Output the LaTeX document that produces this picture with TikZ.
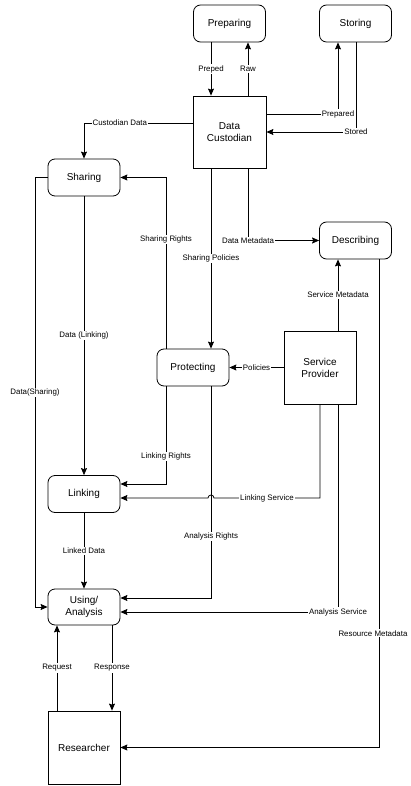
\documentclass[tikz,border=0pt]{standalone}
\usepackage{fontspec}
\setmainfont{Liberation Sans}
\usetikzlibrary{arrows.meta}
\begin{document}
\begin{tikzpicture}[x=1pt,y=-1pt,
 proc/.style={draw, rounded corners=7pt, minimum width=72pt, minimum height=37pt, font=\fontsize{10}{12}\selectfont, align=center, inner sep=0pt, line width=0.8pt},
 sq/.style={draw, minimum width=72pt, minimum height=72pt, font=\fontsize{10}{12}\selectfont, align=center, inner sep=0pt, line width=0.8pt},
 lbl/.style={fill=white, font=\fontsize{7.9}{9}\selectfont, inner sep=1pt},
 conn/.style={line width=0.8pt, -{Stealth[length=7pt,width=6pt,inset=1pt]}}
]
\useasboundingbox (0,0) rectangle (411,786);

\node[proc] (prep) at (229.5,23.5) {Preparing};
\node[proc] (stor) at (355.5,23.5) {Storing};
\node[sq, minimum width=73pt] (dc) at (229.5,132) {Data\\Custodian};
\node[proc] (shar) at (84,177.5) {Sharing};
\node[proc] (desc) at (355.5,240.5) {Describing};
\node[proc] (prot) at (193,367.5) {Protecting};
\node[sq, minimum height=73pt] (sp) at (320,367.5) {Service\\Provider};
\node[proc] (link) at (84,494) {Linking};
\node[proc, minimum height=36pt] (use) at (84,607) {Using/\\Analysis};
\node[sq, minimum height=73pt] (res) at (84,747.5) {Researcher};

\draw[conn] (prep.south -| 211,0) -- node[lbl]{Preped} (dc.north -| 211,0);
\draw[conn] (dc.north -| 248,0) -- node[lbl]{Raw} (prep.south -| 248,0);
\draw[conn] (dc.east |- 0,114) -- (338,114) node[lbl]{Prepared} -- (stor.south -| 338,0);
\draw[conn] (stor.south -| 356,0) -- (356,132) node[lbl]{Stored} -- (dc.east |- 0,132);
\draw[conn] (dc.west |- 0,123) -- node[lbl,pos=0.67]{Custodian Data} (84,123) -- (shar.north);
\draw[conn] (shar.west) -- (35,177.5) -- node[lbl]{Data(Sharing)} (35,607) -- (use.west);
\draw[conn] (shar.south) -- node[lbl]{Data (Linking)} (link.north);
\draw[conn] (prot.north -| 166,0) -- node[lbl,pos=0.636]{Sharing Rights} (166,177.5) -- (shar.east);
\draw[conn] (prot.south -| 166,0) -- node[lbl,pos=0.72]{Linking Rights} (166,484) -- (link.east |- 0,484);
\draw[conn] (dc.south -| 211,0) -- node[lbl,pos=0.5]{Sharing Policies} (prot.north -| 211,0);
\draw[conn] (dc.south -| 248,0) -- (248,240.5) node[lbl]{Data Metadata} -- (desc.west);
\draw[conn] (sp.north -| 338,0) -- node[lbl]{Service Metadata} (desc.south -| 338,0);
\draw[conn] (sp.west) -- node[lbl]{Policies} (prot.east);
\draw[conn] (sp.south) -- (320,498) -- node[lbl]{Linking Service} (214,498) arc[start angle=0,end angle=180,radius=3pt] -- (link.east |- 0,498);
\draw[conn] (sp.south -| 338,0) -- (338,612) node[lbl]{Analysis Service} -- (use.east |- 0,612);
\draw[conn] (prot.south -| 211,0) -- node[lbl,pos=0.71]{Analysis Rights} (211,598) -- (use.east |- 0,598);
\draw[conn] (desc.south -| 379,0) -- node[lbl,pos=0.766,xshift=-6pt]{Resource Metadata} (379,747.5) -- (res.east);
\draw[conn] (link.south) -- node[lbl]{Linked Data} (use.north);
\draw[conn] (use.south -| 112,0) -- node[lbl]{Response} (res.north -| 112,0);
\draw[conn] (res.north -| 57,0) -- node[lbl]{Request} (use.south -| 57,0);
\end{tikzpicture}
\end{document}
